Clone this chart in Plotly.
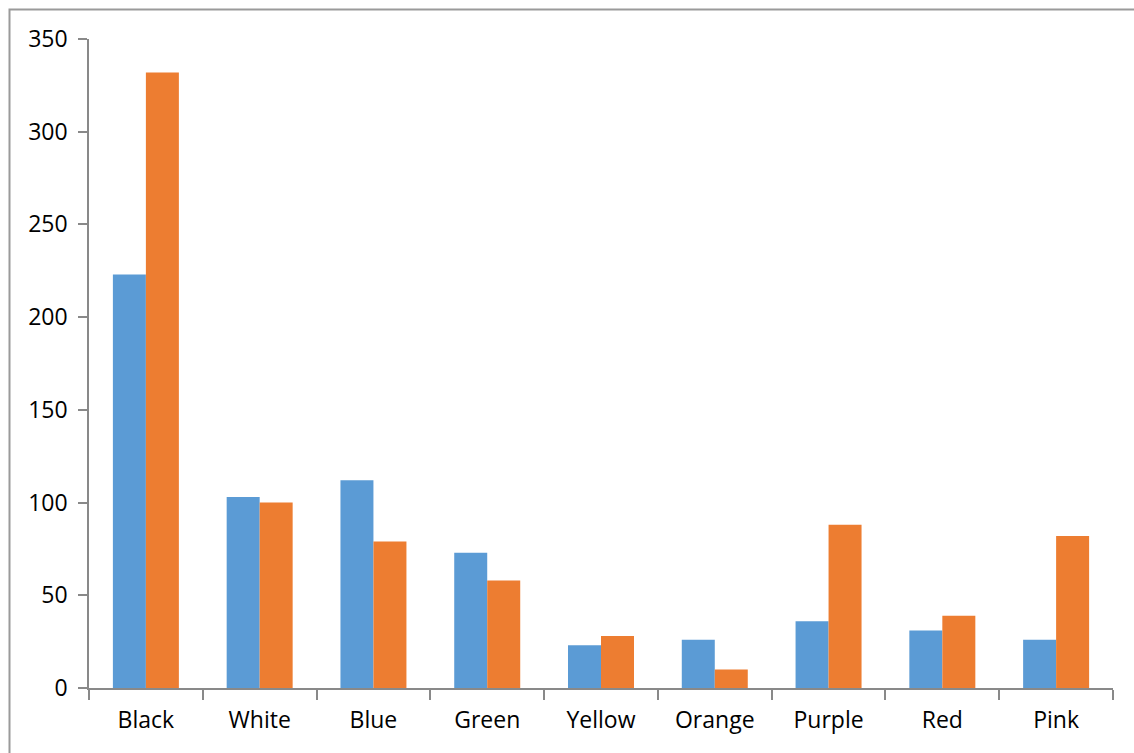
import plotly.graph_objects as go

categories = ["Black", "White", "Blue", "Green", "Yellow", "Orange", "Purple", "Red", "Pink"]
series1 = [223, 103, 112, 73, 23, 26, 36, 31, 26]
series2 = [332, 100, 79, 58, 28, 10, 88, 39, 82]

fig = go.Figure()
fig.add_trace(go.Bar(x=categories, y=series1, marker=dict(color="#5B9BD5", line=dict(width=0)), name="Series1"))
fig.add_trace(go.Bar(x=categories, y=series2, marker=dict(color="#ED7D31", line=dict(width=0)), name="Series2"))

axis_col = "#898989"
fig.update_layout(
    width=1134, height=753,
    margin=dict(l=89, r=21, t=39, b=65),
    paper_bgcolor="white", plot_bgcolor="white",
    barmode="group", bargap=0.42, bargroupgap=0,
    showlegend=False,
    font=dict(family="Open Sans", size=23, color="#000000"),
    xaxis=dict(showline=True, linecolor=axis_col, linewidth=1.5, ticks="outside",
               tickson="boundaries", ticklen=10, tickcolor=axis_col, tickwidth=1.5,
               showgrid=False, zeroline=False, ticklabelstandoff=11,
               tickfont=dict(family="Open Sans", size=23, color="#000000")),
    yaxis=dict(range=[0, 350], dtick=50, showline=True, linecolor=axis_col, linewidth=1.5,
               ticks="outside", ticklen=9, tickcolor=axis_col, tickwidth=1.5,
               showgrid=False, zeroline=False, ticklabelstandoff=6,
               tickfont=dict(family="Open Sans", size=23, color="#000000")),
    shapes=[dict(type="rect", xref="paper", yref="paper",
                 x0=(9.5 - 89) / 1024, x1=(1145 - 89) / 1024,
                 y0=(688 - 765) / 649, y1=(688 - 9.5) / 649,
                 line=dict(color="#9a9a9a", width=2), layer="below")],
)
fig.write_html("out.html")
